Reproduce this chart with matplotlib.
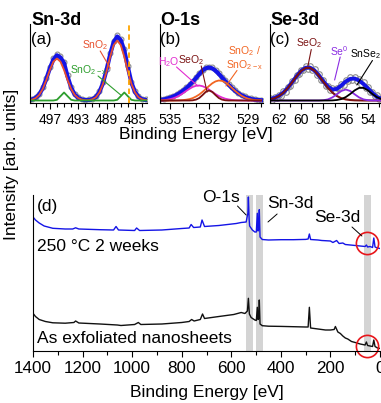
import numpy as np
import matplotlib
matplotlib.use("Agg")
import matplotlib.pyplot as plt
from matplotlib.ticker import MultipleLocator

plt.rcParams['font.family'] = ['Liberation Sans', 'DejaVu Sans']
plt.rcParams['mathtext.fontset'] = 'custom'
plt.rcParams['mathtext.rm'] = 'Liberation Sans'
plt.rcParams['mathtext.it'] = 'Liberation Sans:italic'
plt.rcParams['mathtext.default'] = 'regular'

# ---- (a) Sn-3d, 500 -> 483 eV, step 0.5
sn_be = np.arange(500.0, 482.9, -0.5)
sn_data = [0.9, 1.6, 3.3, 6.8, 13.1, 22.9, 33.4, 42.3, 46.5, 44.4, 38.6, 25.3, 13.9, 6.9, 3.2, 1.7, 1.0,
           1.2, 2.0, 4.3, 9.5, 18.7, 32.0, 47.3, 59.8, 65.3, 61.9, 51.4, 34.6, 19.0, 9.5, 4.2, 2.0, 1.1, 0.7]
sn_env = [0.4, 1.0, 2.6, 6.0, 12.3, 21.6, 32.2, 41.0, 45.2, 43.0, 37.5, 24.0, 12.8, 6.0, 2.6, 1.0, 0.4,
          0.5, 1.3, 3.5, 8.6, 17.6, 30.8, 46.0, 58.5, 64.0, 60.5, 50.0, 33.5, 18.0, 8.6, 3.5, 1.3, 0.5, 0.2]
sn_sno2 = [0.3, 0.9, 2.4, 5.6, 11.6, 20.4, 30.5, 38.8, 42.0, 38.8, 30.5, 20.4, 11.6, 5.6, 2.4, 0.9, 0.3,
           0.4, 1.2, 3.3, 8.1, 16.7, 29.2, 43.6, 55.4, 60.0, 55.4, 43.6, 29.2, 16.7, 8.1, 3.3, 1.2, 0.4, 0.1]
sn_sno2x = [0, 0, 0, 0, 0, 0, 0, 0, 0.7, 4.3, 8.0, 4.3, 0.7, 0, 0, 0, 0,
            0, 0, 0, 0, 0, 0, 0, 0, 0.7, 4.3, 8.0, 4.3, 0.7, 0, 0, 0, 0, 0]
sn_marker_be = 485.9

# ---- (b) O-1s, 536 -> 528 eV, step 0.25
o_be = np.arange(536.0, 527.9, -0.25)
o_data = [0.8, 1.1, 1.4, 2.4, 3.3, 4.7, 6.2, 8.3, 10.5, 13.3, 16.2, 19.8, 23.4, 27.4, 30.9, 33.4, 34.0,
          33.2, 30.8, 27.6, 23.9, 20.3, 16.8, 13.4, 10.5, 8.0, 5.9, 4.3, 3.0, 2.1, 1.5, 1.0, 0.8]
o_env = [0.3, 0.5, 1.0, 1.8, 2.8, 4.0, 5.6, 7.5, 9.8, 12.4, 15.4, 18.8, 22.5, 26.4, 29.9, 32.3, 33.0,
         32.1, 29.8, 26.6, 23.0, 19.4, 15.9, 12.6, 9.7, 7.2, 5.2, 3.6, 2.4, 1.5, 0.9, 0.5, 0.3]
o_h2o = [0.1, 0.2, 0.4, 0.7, 1.3, 2.2, 3.5, 5.2, 7.3, 9.6, 11.7, 13.6, 14.7, 15.0, 14.3, 12.9, 10.9,
         8.6, 6.4, 4.5, 3.0, 1.8, 1.1, 0.6, 0.3, 0.15, 0.1, 0, 0, 0, 0, 0, 0]
o_seo2 = [0, 0, 0, 0, 0, 0, 0, 0, 0, 0, 0, 0.2, 0.9, 2.5, 5.4, 8.6, 10.0,
          8.6, 5.4, 2.5, 0.9, 0.2, 0, 0, 0, 0, 0, 0, 0, 0, 0, 0, 0]
o_sno2 = [0, 0, 0, 0, 0, 0, 0.1, 0.2, 0.4, 0.8, 1.4, 2.4, 4.0, 6.0, 8.6, 11.5, 14.5,
          17.2, 19.1, 20.0, 19.6, 18.1, 15.7, 12.7, 9.7, 7.0, 4.7, 3.0, 1.8, 1.0, 0.5, 0.3, 0.1]

# ---- (c) Se-3d
se_be = np.arange(62.8, 52.7, -0.4)
se_env = [1.5, 2.6, 4.7, 8.0, 12.7, 18.6, 24.6, 29.8, 32.8, 32.8, 29.9, 24.8, 19.0,
          13.8, 11.0, 11.6, 15.0, 19.0, 21.6, 22.0, 20.0, 16.5, 12.0, 7.5, 3.5, 1.8]
se_seo2 = [1.1, 2.3, 4.5, 7.9, 12.6, 18.5, 24.5, 29.7, 32.6, 32.6, 29.7, 24.5, 18.5,
           12.6, 7.9, 4.5, 2.3, 1.1, 0.5, 0.2, 0.1, 0, 0, 0, 0, 0]
se_se0 = [0, 0, 0, 0, 0, 0, 0, 0, 0, 0, 0, 0, 0.3,
          1.1, 3.1, 6.2, 9.5, 11.0, 9.5, 6.2, 3.1, 1.1, 0.3, 0, 0, 0]
se_snse2 = [0, 0, 0, 0, 0, 0, 0, 0, 0, 0, 0, 0, 0,
            0, 0.1, 0.5, 1.4, 3.4, 6.5, 10.1, 12.6, 12.6, 10.1, 6.5, 3.4, 1.4]
se_data_be = np.arange(62.8, 52.9, -0.2)
se_data = [2.5, 1.0, 3.5, 2.5, 5.5, 5.0, 9.5, 9.0, 13.5, 15.0, 19.5, 20.5, 26.0, 26.5, 31.0, 30.5, 34.5,
           32.0, 35.0, 30.5, 31.5, 26.0, 27.0, 21.0, 20.5, 15.0, 15.0, 11.0, 13.0, 10.0, 13.0, 12.5,
           16.5, 16.0, 21.0, 19.5, 23.5, 21.0, 24.0, 20.0, 22.0, 17.0, 18.5, 13.0, 13.5, 8.5, 9.0,
           4.5, 5.5, 2.0]

# ---- (d) survey spectra
hot_be = [1400, 1390, 1375, 1355, 1320, 1270, 1240, 1228, 1215, 1130, 1075, 1065, 1055, 990, 982, 970,
          880, 800, 770, 762, 752, 725, 718, 708, 650, 580, 560, 540, 533, 531, 528, 526, 515, 505,
          499, 495, 492, 489, 487, 484, 475, 450, 400, 350, 300, 290, 285, 280, 250, 235, 200, 190,
          175, 165, 150, 140, 120, 100, 80, 60, 55, 50, 40, 30, 25, 20, 10, 0]
hot_int = [134, 131, 128, 125, 122.7, 122, 122, 123.2, 122, 121.3, 121, 124.5, 121, 120.5, 123, 120.5,
           121, 122.5, 123, 126.5, 123.5, 124, 131, 124.5, 125.5, 127.5, 128.5, 129, 138, 154, 132, 125,
           121, 119, 119, 137.7, 120, 122, 141.3, 114, 111.5, 111, 111.3, 111.3, 111.6, 112, 117, 111.5,
           111, 110.5, 110, 108.5, 110.5, 107.5, 108, 106.5, 106, 105.5, 105, 104.5, 106, 104, 104.5,
           103.5, 113, 104, 103, 102.5]
raw_be = [1400, 1390, 1375, 1350, 1320, 1270, 1235, 1228, 1215, 1130, 1060, 1045, 990, 975, 965, 880,
          800, 770, 760, 750, 725, 716, 708, 650, 590, 560, 545, 535, 531, 527, 520, 505, 499, 495,
          492, 489, 487, 484, 475, 450, 400, 350, 300, 290, 285, 280, 250, 220, 200, 185, 180, 170,
          160, 150, 140, 130, 115, 100, 80, 60, 55, 50, 40, 30, 25, 20, 10, 0]
raw_int = [37.7, 34.5, 31.5, 29.5, 28.2, 27.8, 28.5, 30, 28, 27, 26, 25.5, 26.5, 28.5, 26.5, 27,
           28.5, 29.5, 31.5, 30, 31.5, 37, 32.5, 34.5, 36.5, 38.5, 37.5, 40, 52.7, 37, 33.5, 31, 30.5,
           43.7, 31.5, 33, 51, 27, 25.3, 24.8, 24.6, 24.3, 24, 24, 43.7, 23, 22, 21, 21, 21.5, 24.5,
           19, 17.5, 15, 13, 12, 9.5, 8.5, 7, 6, 9, 5.5, 5, 4.5, 11, 4.5, 3, 2.5]
bands = [(540, 514), (500, 473), (64, 38)]
circle_be = [52, 52]
circle_int = [108, 5]

GREY = '#8c8c8c'
BLUE = '#1414e6'
RED = '#e8502e'
GREEN = '#2e9e2e'
ORANGE = '#f26522'
DARKRED = '#7a1212'
MAGENTA = '#e22bd0'
PURPLE = '#8a2be2'

fig = plt.figure(figsize=(3.81, 4.03), dpi=100)
W, H = 381.0, 403.0


def axes_px(left, top, right, bottom):
    return fig.add_axes([left / W, 1 - bottom / H, (right - left) / W, (bottom - top) / H])


def style_top(ax, xlim, major, minor):
    ax.set_xlim(*xlim)
    ax.set_ylim(-2.5, 76.5)
    ax.set_yticks([])
    for s in ['top', 'right']:
        ax.spines[s].set_visible(False)
    ax.xaxis.set_major_locator(MultipleLocator(major))
    ax.xaxis.set_minor_locator(MultipleLocator(minor))
    ax.tick_params(axis='x', which='major', direction='out', length=4, width=0.8, labelsize=10, pad=3)
    ax.tick_params(axis='x', which='minor', direction='out', length=3, width=0.8)
    ax.set_facecolor('none')


def label(ax, text, pos, start, end, color, size=7.5, lw=0.8):
    ax.text(pos[0], pos[1], text, color=color, fontsize=size, ha='center', va='center',
            linespacing=1.0, clip_on=False)
    ax.annotate('', xy=end, xytext=start, annotation_clip=False,
                arrowprops=dict(arrowstyle='-', color=color, lw=lw, shrinkA=0, shrinkB=0))


def heading(ax, title, tag, x):
    ax.text(x, 1.04, title, transform=ax.transAxes, fontsize=13, fontweight='bold', ha='left', va='center')
    ax.text(x, 0.80, tag, transform=ax.transAxes, fontsize=12, ha='left', va='center')


# (a)
ax_a = axes_px(30, 24, 147, 103)
ax_a.plot(sn_be, sn_data, 'o', ms=3.5, mfc='none', mec=GREY, mew=0.8)
ax_a.plot(sn_be, sn_env, color=BLUE, lw=3)
ax_a.plot(sn_be, sn_sno2, color=RED, lw=1.3)
ax_a.plot(sn_be, sn_sno2x, color=GREEN, lw=1.3)
ax_a.axvline(sn_marker_be, color='#ffa500', ls=(0, (3, 2)), lw=1.3)
style_top(ax_a, (499.8, 483.3), 4, 1)
ax_a.set_xticks([497, 493, 489, 485])
heading(ax_a, 'Sn-3d', '(a)', 0.01)
label(ax_a, 'SnO$_2$', (490.6, 55.5), (489.9, 49.5), (488.5, 32.5), RED)
label(ax_a, 'SnO$_{2-x}$', (491.6, 30.5), (490.2, 24.5), (487.0, 5.5), GREEN)

# (b)
ax_b = axes_px(160, 24, 263, 103)
ax_b.plot(o_be, o_data, 'o', ms=3.5, mfc='none', mec=GREY, mew=0.8)
ax_b.plot(o_be, o_env, color=BLUE, lw=3)
ax_b.plot(o_be, o_h2o, color=MAGENTA, lw=1.3)
ax_b.plot(o_be, o_sno2, color=ORANGE, lw=1.3)
ax_b.plot(o_be, o_seo2, color=DARKRED, lw=1.3)
style_top(ax_b, (535.77, 527.85), 3, 1)
ax_b.set_xticks([535, 532, 529])
heading(ax_b, 'O-1s', '(b)', 0.0)
label(ax_b, 'H$_2$O', (535.1, 38.5), (534.5, 33.5), (532.85, 14.5), MAGENTA)
label(ax_b, 'SeO$_2$', (533.4, 40.5), (532.6, 34.5), (532.15, 8.5), DARKRED)
label(ax_b, 'SnO$_2$ /\nSnO$_{2-x}$', (529.3, 42.5), (529.85, 30.0), (530.7, 14.5), ORANGE)

# (c)
ax_c = axes_px(270, 24, 381, 103)
ax_c.plot(se_data_be, se_data, 'o', ms=4, mfc='none', mec=GREY, mew=0.8)
ax_c.plot(se_be, se_env, color=BLUE, lw=2.8)
ax_c.plot(se_be, se_seo2, color=DARKRED, lw=1.5)
ax_c.plot(se_be, se_se0, color=PURPLE, lw=1.3)
ax_c.plot(se_be, se_snse2, color='black', lw=1.3)
style_top(ax_c, (62.81, 52.83), 2, 1)
ax_c.set_xticks([62, 60, 58, 56, 54])
heading(ax_c, 'Se-3d', '(c)', 0.0)
label(ax_c, 'SeO$_2$', (59.3, 57.5), (59.1, 51.0), (59.4, 34.5), DARKRED)
label(ax_c, 'Se$^0$', (56.6, 49.5), (56.5, 43.5), (57.0, 20.5), PURPLE)
label(ax_c, 'SnSe$_2$', (54.2, 46.5), (53.6, 40.0), (55.0, 15.5), 'black')

fig.text(196 / W, 1 - 135 / H, 'Binding Energy [eV]', ha='center', va='center', fontsize=12.5)
fig.text(12 / W, 1 - 164 / H, 'Intensity [arb. units]', ha='center', va='center', fontsize=12.5,
         rotation=90)

# (d)
ax_d = axes_px(33, 195, 380, 351)
for lo, hi in bands:
    ax_d.axvspan(lo, hi, color='#d4d4d4', lw=0, zorder=0)
ax_d.plot(hot_be, hot_int, color=BLUE, lw=1)
ax_d.plot(raw_be, raw_int, color='#111111', lw=1)
ax_d.plot(circle_be, circle_int, 'o', ms=16, mfc='none', mec='#e8161b', mew=1.2, clip_on=False)
ax_d.set_xlim(1400, 0)
ax_d.set_ylim(0, 156)
ax_d.set_yticks([])
for s in ['top', 'right']:
    ax_d.spines[s].set_visible(False)
ax_d.xaxis.set_major_locator(MultipleLocator(200))
ax_d.xaxis.set_minor_locator(MultipleLocator(100))
ax_d.tick_params(axis='x', which='major', direction='out', length=4, width=0.8, labelsize=12.3, pad=3)
ax_d.tick_params(axis='x', which='minor', direction='out', length=3, width=0.8)

ax_d.text(0.012, 0.925, '(d)', transform=ax_d.transAxes, fontsize=12.5, ha='left', va='center')
ax_d.text(0.012, 0.673, '250 °C 2 weeks', transform=ax_d.transAxes, fontsize=12.5, ha='left', va='center')
ax_d.text(0.012, 0.077, 'As exfoliated nanosheets', transform=ax_d.transAxes, fontsize=12.5,
          ha='left', va='center')
label(ax_d, 'O-1s', (641, 153), (575, 145), (540, 136), 'black', size=12.5, lw=0.7)
label(ax_d, 'Sn-3d', (363, 148), (415, 137), (452, 129), 'black', size=12.5, lw=0.7)
label(ax_d, 'Se-3d', (173, 133), (113, 124), (73, 115), 'black', size=12.5, lw=0.7)

fig.text(207 / W, 1 - 393 / H, 'Binding Energy [eV]', ha='center', va='center', fontsize=12.5)

fig.savefig('out.png', dpi=100)
